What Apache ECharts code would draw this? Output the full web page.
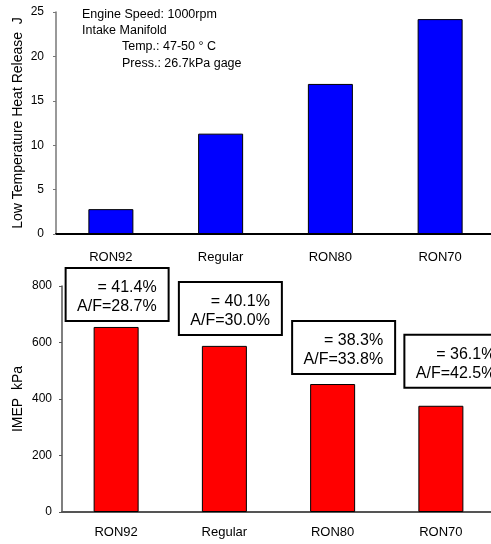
<!DOCTYPE html>
<html>
<head>
<meta charset="utf-8">
<script src="https://cdn.jsdelivr.net/npm/echarts@6/dist/echarts.min.js"></script>
<style>
  html, body { margin: 0; padding: 0; background: #fff; }
  #chart { width: 491px; height: 544px; }
</style>
</head>
<body>
<div id="chart"></div>
<script>
const FONT = '"Liberation Sans", Arial, sans-serif';

// data
const categories = ['RON92', 'Regular', 'RON80', 'RON70'];
const heatRelease = [2.8, 11.3, 16.9, 24.2]; // J
const imep = [655, 588, 453, 376]; // kPa
const efficiency = ['41.4%', '40.1%', '38.3%', '36.1%'];
const afRatio = ['28.7%', '30.0%', '33.8%', '42.5%'];
const heatTicks = { min: 0, max: 25, interval: 5 };
const imepTicks = { min: 0, max: 800, interval: 200 };

// where each box sits relative to its bar: [shift right, gap above]
const boxPlace = [[1, 7], [6, 12], [11, 11], [15, 19]];

const chart = echarts.init(document.getElementById('chart'));

const imepData = imep.map((v, i) => ({
  value: v,
  label: {
    show: true,
    position: 'top',
    distance: boxPlace[i][1],
    offset: [boxPlace[i][0], 0],
    formatter: `{a|= ${efficiency[i]}}\n{a|A/F=${afRatio[i]}}`,
  },
}));

chart.setOption({
  animation: false,
  textStyle: { fontFamily: FONT },
  grid: [
    { left: 56, top: 12, width: 439, height: 222, outerBoundsMode: 'none' },
    { left: 62, top: 286, width: 433, height: 226, outerBoundsMode: 'none' },
  ],
  graphic: [
    { type: 'text', left: 82, top: 8, style: { text: 'Engine Speed: 1000rpm', font: '12.5px ' + FONT, fill: '#000' } },
    { type: 'text', left: 82, top: 24, style: { text: 'Intake Manifold', font: '12.5px ' + FONT, fill: '#000' } },
    { type: 'text', left: 122, top: 40, style: { text: 'Temp.: 47-50 ° C', font: '12.5px ' + FONT, fill: '#000' } },
    { type: 'text', left: 122, top: 57, style: { text: 'Press.: 26.7kPa gage', font: '12.5px ' + FONT, fill: '#000' } },
  ],
  xAxis: [
    {
      type: 'category',
      gridIndex: 0,
      data: categories,
      axisLine: { lineStyle: { color: '#000', width: 2 } },
      axisTick: { inside: true, length: 4, lineStyle: { color: '#000' } },
      axisLabel: { color: '#000', fontSize: 13, margin: 17 },
    },
    {
      type: 'category',
      gridIndex: 1,
      data: categories,
      axisLine: { lineStyle: { color: '#555', width: 2 } },
      axisTick: { inside: true, length: 4, lineStyle: { color: '#555' } },
      axisLabel: { color: '#000', fontSize: 13, margin: 14 },
    },
  ],
  yAxis: [
    {
      type: 'value',
      gridIndex: 0,
      min: heatTicks.min,
      max: heatTicks.max,
      interval: heatTicks.interval,
      name: 'Low Temperature Heat Release  J',
      nameLocation: 'middle',
      nameGap: 31,
      nameMoveOverlap: false,
      nameTextStyle: { color: '#000', fontSize: 14 },
      splitLine: { show: false },
      axisLine: { show: true, lineStyle: { color: '#777', width: 1.5 } },
      axisTick: { show: true, length: 3, lineStyle: { color: '#777' } },
      axisLabel: { color: '#000', fontSize: 12, margin: 12 },
    },
    {
      type: 'value',
      gridIndex: 1,
      min: imepTicks.min,
      max: imepTicks.max,
      interval: imepTicks.interval,
      name: 'IMEP  kPa',
      nameLocation: 'middle',
      nameGap: 37,
      nameMoveOverlap: false,
      nameTextStyle: { color: '#000', fontSize: 14 },
      splitLine: { show: false },
      axisLine: { show: true, lineStyle: { color: '#555', width: 1.5 } },
      axisTick: { show: true, length: 3, lineStyle: { color: '#555' } },
      axisLabel: { color: '#000', fontSize: 12, margin: 10 },
    },
  ],
  series: [
    {
      type: 'bar',
      xAxisIndex: 0,
      yAxisIndex: 0,
      data: heatRelease,
      barWidth: 45,
      itemStyle: { color: '#0000ff', borderColor: '#000', borderWidth: 1 },
    },
    {
      type: 'bar',
      xAxisIndex: 1,
      yAxisIndex: 1,
      data: imepData,
      barWidth: 45,
      itemStyle: { color: '#ff0000', borderColor: '#000', borderWidth: 1 },
      label: {
        backgroundColor: '#fff',
        borderColor: '#000',
        borderWidth: 2,
        padding: [9, 11, 4, 10],
        color: '#000',
        rich: {
          a: { width: 80, align: 'right', fontSize: 16, lineHeight: 19, color: '#000', fontFamily: FONT },
        },
      },
    },
  ],
});
</script>
</body>
</html>
